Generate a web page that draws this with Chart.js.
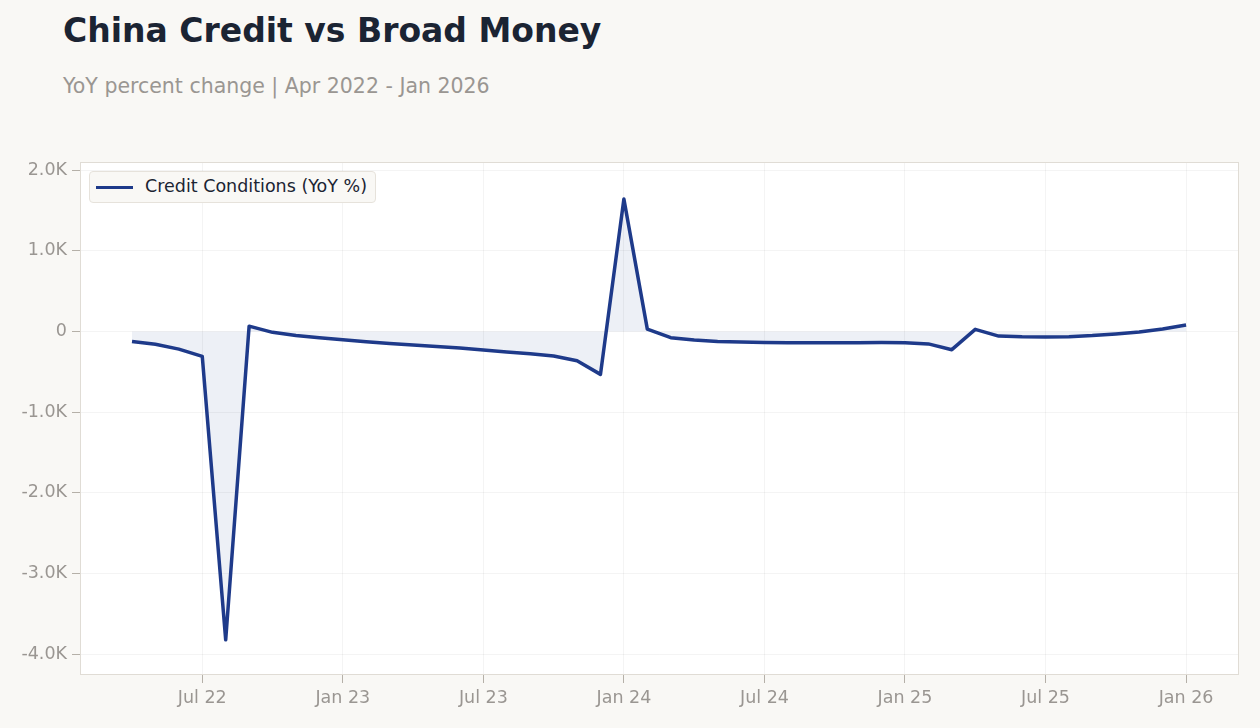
<!DOCTYPE html>
<html>
<head>
<meta charset="utf-8">
<script src="https://cdn.jsdelivr.net/npm/chart.js@4.4.1/dist/chart.umd.min.js"></script>
<style>
  html, body { margin: 0; padding: 0; background: #f9f8f5; }
  body { width: 1260px; height: 728px; position: relative; overflow: hidden; font-family: "DejaVu Sans", sans-serif; }
  #title { position: absolute; left: 63px; top: 11px; font-size: 33px; font-weight: bold; color: #1b2433; white-space: nowrap; }
  #subtitle { position: absolute; left: 63px; top: 74px; font-size: 20.5px; color: #9a9692; white-space: nowrap; }
  #c { position: absolute; left: 0; top: 0; }
  #legend { position: absolute; left: 89px; top: 171px; width: 287px; height: 32px; background: #f9f8f5; border: 1px solid #e6e2db; border-radius: 4px; box-sizing: border-box; }
  #legend .sw { position: absolute; left: 6px; top: 13.5px; width: 37px; height: 3px; background: #1e3a8a; }
  #legend .tx { position: absolute; left: 55px; top: 4px; font-size: 17.5px; color: #1b2433; white-space: nowrap; }
</style>
</head>
<body>
<div id="title">China Credit vs Broad Money</div>
<div id="subtitle">YoY percent change | Apr 2022 - Jan 2026</div>
<canvas id="c" width="1260" height="728"></canvas>
<div id="legend"><div class="sw"></div><div class="tx">Credit Conditions (YoY %)</div></div>
<script>
const months = [
  "Apr 22","May 22","Jun 22","Jul 22","Aug 22","Sep 22","Oct 22","Nov 22","Dec 22",
  "Jan 23","Feb 23","Mar 23","Apr 23","May 23","Jun 23","Jul 23","Aug 23","Sep 23","Oct 23","Nov 23","Dec 23",
  "Jan 24","Feb 24","Mar 24","Apr 24","May 24","Jun 24","Jul 24","Aug 24","Sep 24","Oct 24","Nov 24","Dec 24",
  "Jan 25","Feb 25","Mar 25","Apr 25","May 25","Jun 25","Jul 25","Aug 25","Sep 25","Oct 25","Nov 25","Dec 25",
  "Jan 26"
];
const creditConditions = [
  -124, -160, -220, -310, -3824, 65, -12, -50, -80,
  -105, -128, -150, -170, -188, -205, -232, -255, -278, -305, -365, -533,
  1640, 28, -78, -108, -124, -133, -138, -141, -142, -141, -140, -139,
  -140, -155, -227, 25, -58, -68, -70, -65, -52, -32, -8, 30,
  80
];
const xTickLabels = ["Jul 22","Jan 23","Jul 23","Jan 24","Jul 24","Jan 25","Jul 25","Jan 26"];
const yTickValues = [-4000, -3000, -2000, -1000, 0, 1000, 2000];

const points = creditConditions.map((v, i) => ({ x: i, y: v }));
const xTickIdx = xTickLabels.map(l => months.indexOf(l));

const plotFrame = {
  id: 'plotFrame',
  beforeDraw(chart) {
    const { ctx, chartArea: a } = chart;
    ctx.save();
    ctx.fillStyle = '#ffffff';
    ctx.fillRect(a.left, a.top, a.right - a.left, a.bottom - a.top);
    ctx.restore();
  },
  afterDraw(chart) {
    const { ctx, chartArea: a } = chart;
    ctx.save();
    ctx.strokeStyle = '#e0dcd5';
    ctx.lineWidth = 1;
    ctx.strokeRect(a.left + 0.5, a.top + 0.5, a.right - a.left - 1, a.bottom - a.top - 1);
    ctx.restore();
  }
};

const tickFont = { family: '"DejaVu Sans", sans-serif', size: 17.5 };

new Chart(document.getElementById('c'), {
  type: 'line',
  data: {
    datasets: [{
      label: 'Credit Conditions (YoY %)',
      data: points,
      borderColor: '#1e3a8a',
      backgroundColor: 'rgba(30,58,138,0.08)',
      borderWidth: 3.5,
      pointRadius: 0,
      tension: 0,
      borderJoinStyle: 'round',
      fill: 'origin'
    }]
  },
  options: {
    responsive: false,
    animation: false,
    layout: { padding: { left: 0, top: 162, right: 21, bottom: 0 } },
    plugins: { legend: { display: false }, title: { display: false }, tooltip: { enabled: false } },
    scales: {
      x: {
        type: 'linear',
        min: -2.22,
        max: 47.26,
        afterBuildTicks(scale) { scale.ticks = xTickIdx.map(v => ({ value: v })); },
        afterFit(scale) { scale.height = 53; },
        ticks: {
          color: '#9a9692',
          font: tickFont,
          padding: 5,
          maxRotation: 0,
          autoSkip: false,
          callback(v) { const i = xTickIdx.indexOf(v); return i >= 0 ? xTickLabels[i] : ''; }
        },
        grid: { color: 'rgba(0,0,0,0.045)', tickColor: '#b5b0a8', tickLength: 8, drawOnChartArea: true },
        border: { display: false }
      },
      y: {
        type: 'linear',
        min: -4260,
        max: 2100,
        afterBuildTicks(scale) { scale.ticks = yTickValues.map(v => ({ value: v })); },
        afterFit(scale) { scale.width = 80; },
        ticks: {
          color: '#9a9692',
          font: tickFont,
          padding: 5,
          callback(v) { return v === 0 ? '0' : (v / 1000).toFixed(1) + 'K'; }
        },
        grid: { color: 'rgba(0,0,0,0.045)', tickColor: '#b5b0a8', tickLength: 8 },
        border: { display: false }
      }
    }
  },
  plugins: [plotFrame]
});
</script>
</body>
</html>
